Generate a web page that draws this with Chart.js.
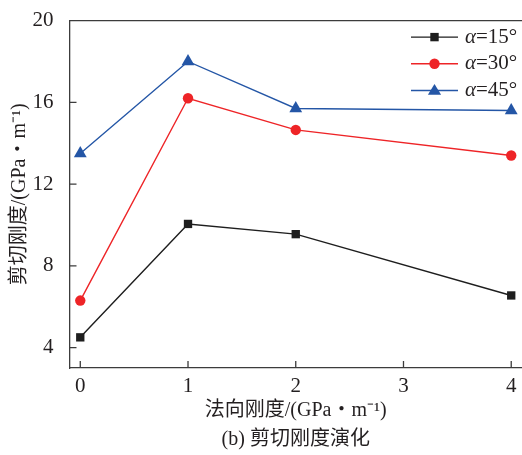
<!DOCTYPE html>
<html>
<head>
<meta charset="utf-8">
<script src="https://cdn.jsdelivr.net/npm/chart.js@4/dist/chart.umd.min.js"></script>
<style>
  html, body { margin: 0; padding: 0; background: #fff; }
  #wrap { width: 522px; height: 455px; position: relative; }
</style>
</head>
<body>
<div id="wrap"><canvas id="chart"></canvas></div>
<script>
const xValues = [0, 1, 2, 4];
const alpha15 = [4.5, 10.05, 9.55, 6.55];
const alpha30 = [6.3, 16.2, 14.65, 13.4];
const alpha45 = [13.5, 18.0, 15.7, 15.6];
const seriesLabels = ['α=15°', 'α=30°', 'α=45°'];
const xTickValues = [0, 1, 2, 3, 4];
const yTickValues = [4, 8, 12, 16, 20];

const FONT = '"Liberation Serif", "Noto Sans CJK SC", serif';
const AXIS_COLOR = '#3c3c3c';
const TEXT_COLOR = '#231f20';

function toPoints(ys) {
  return xValues.map((x, i) => ({ x: x, y: ys[i] }));
}

function drawMarker(ctx, style, x, y, color) {
  ctx.fillStyle = color;
  ctx.beginPath();
  if (style === 'rect') {
    ctx.rect(x - 4.2, y - 4.2, 8.4, 8.4);
  } else if (style === 'circle') {
    ctx.arc(x, y, 5.2, 0, Math.PI * 2);
  } else {
    ctx.moveTo(x, y - 6.5);
    ctx.lineTo(x + 6.6, y + 4.3);
    ctx.lineTo(x - 6.6, y + 4.3);
    ctx.closePath();
  }
  ctx.fill();
}

// inward tick marks + top frame line
const frame = {
  id: 'frame',
  afterDraw(chart) {
    const { ctx, chartArea, scales } = chart;
    ctx.save();
    ctx.strokeStyle = AXIS_COLOR;
    ctx.lineWidth = 1.3;
    ctx.beginPath();
    ctx.moveTo(chartArea.left, chartArea.top);
    ctx.lineTo(chartArea.right, chartArea.top);
    scales.x.ticks.forEach(t => {
      const px = scales.x.getPixelForValue(t.value);
      ctx.moveTo(px, chartArea.bottom);
      ctx.lineTo(px, chartArea.bottom - 7);
    });
    scales.y.ticks.forEach(t => {
      const py = scales.y.getPixelForValue(t.value);
      ctx.moveTo(chartArea.left, py);
      ctx.lineTo(chartArea.left + 7, py);
    });
    ctx.stroke();
    ctx.restore();
  }
};

// legend with line + marker, top-right inside plot
const lineLegend = {
  id: 'lineLegend',
  afterDraw(chart) {
    const { ctx, chartArea } = chart;
    const x0 = chartArea.right - 111;
    const y0 = chartArea.top + 16.5;
    ctx.save();
    chart.data.datasets.forEach((ds, i) => {
      const y = y0 + i * 26.7;
      ctx.strokeStyle = ds.borderColor;
      ctx.lineWidth = 1.4;
      ctx.beginPath();
      ctx.moveTo(x0, y);
      ctx.lineTo(x0 + 47, y);
      ctx.stroke();
      drawMarker(ctx, ds.pointStyle, x0 + 23.5, y, ds.pointBackgroundColor);
      ctx.fillStyle = TEXT_COLOR;
      ctx.textBaseline = 'middle';
      ctx.textAlign = 'left';
      ctx.font = 'italic 21px ' + FONT;
      const first = ds.label.charAt(0);
      ctx.fillText(first, x0 + 54, y);
      const w = ctx.measureText(first).width;
      ctx.font = '21px ' + FONT;
      ctx.fillText(ds.label.slice(1), x0 + 54 + w, y);
    });
    ctx.restore();
  }
};

const colors = ['#1e1e1e', '#ee2427', '#2456a6'];
const styles = ['rect', 'circle', 'triangle'];
const radii = [5.9, 5.2, 7.4];
const allSeries = [alpha15, alpha30, alpha45];

new Chart(document.getElementById('chart'), {
  type: 'line',
  data: {
    datasets: allSeries.map((s, i) => ({
      label: seriesLabels[i],
      data: toPoints(s),
      borderColor: colors[i],
      backgroundColor: colors[i],
      pointBackgroundColor: colors[i],
      pointBorderColor: colors[i],
      pointStyle: styles[i],
      pointRadius: radii[i],
      pointHoverRadius: radii[i],
      pointBorderWidth: 0,
      borderWidth: 1.4,
      tension: 0,
      clip: false
    }))
  },
  options: {
    responsive: true,
    maintainAspectRatio: false,
    animation: false,
    layout: { autoPadding: false, padding: { top: 18, right: 0, left: 0, bottom: 0 } },
    plugins: {
      legend: { display: false },
      tooltip: { enabled: false }
    },
    scales: {
      x: {
        type: 'linear',
        min: -0.1,
        max: 4.1,
        grid: { display: false },
        border: { display: true, color: AXIS_COLOR, width: 1.3 },
        afterBuildTicks: scale => { scale.ticks = xTickValues.map(v => ({ value: v })); },
        afterFit: scale => { scale.height = 87; },
        ticks: {
          color: TEXT_COLOR,
          padding: -2,
          maxRotation: 0,
          font: { family: FONT, size: 21 }
        },
        title: {
          display: true,
          // axis title + figure caption, both centred under the plot
          text: ['法向刚度/(GPa・m⁻¹)', '(b) 剪切刚度演化'],
          color: TEXT_COLOR,
          font: { family: FONT, size: 20, lineHeight: 1.45 },
          padding: { top: 0, bottom: 1 }
        }
      },
      y: {
        min: 3,
        max: 20,
        grid: { display: false },
        border: { display: true, color: AXIS_COLOR, width: 1.3 },
        afterBuildTicks: scale => { scale.ticks = yTickValues.map(v => ({ value: v })); },
        afterFit: scale => { scale.width = 69.5; },
        ticks: {
          color: TEXT_COLOR,
          padding: 8,
          font: { family: FONT, size: 21 }
        },
        title: {
          display: true,
          text: '剪切刚度/(GPa・m⁻¹)',
          color: TEXT_COLOR,
          font: { family: FONT, size: 20, lineHeight: 1.2 },
          padding: { top: 8, bottom: 0 }
        }
      }
    }
  },
  plugins: [frame, lineLegend]
});
</script>
</body>
</html>
